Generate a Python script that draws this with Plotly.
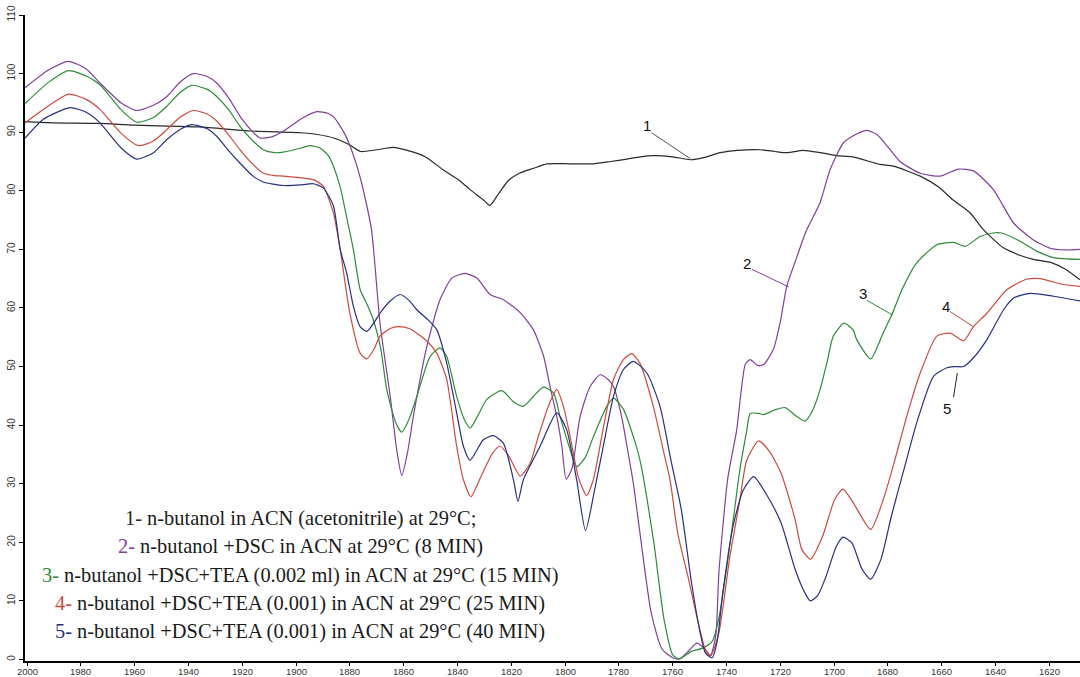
import plotly.graph_objects as go

# ---------------- data (wavenumber cm-1, transmittance %) ----------------
wn1 = [2000.7, 1990, 1973, 1960, 1936, 1917, 1898, 1892, 1886, 1880, 1876, 1870, 1864, 1858, 1852,
       1845.4, 1840, 1835.3, 1830, 1828, 1825, 1821, 1817, 1812, 1806.7, 1798, 1789.6, 1783, 1777,
       1772, 1767.3, 1760, 1753.5, 1748, 1742.4, 1736, 1727.5, 1722, 1717.5, 1711.5, 1705, 1699,
       1693, 1683, 1678, 1668, 1661, 1656, 1649.4, 1644.6, 1637.2, 1631, 1626, 1619, 1614, 1608.6]
t1 = [91.8, 91.6, 91.5, 91.2, 90.9, 90.2, 89.9, 89.6, 89.0, 87.8, 86.7, 87.0, 87.4, 86.8, 85.8,
      83.6, 82.0, 80.2, 78.3, 77.5, 79.3, 81.8, 83.0, 83.8, 84.6, 84.6, 84.6, 85.0, 85.4,
      85.8, 86.0, 85.8, 85.3, 85.7, 86.5, 86.9, 87.0, 86.7, 86.5, 86.9, 86.5, 86.0,
      85.8, 84.5, 84.2, 82.5, 80.6, 78.5, 76.2, 73.4, 70.3, 69.0, 68.3, 67.7, 66.6, 64.8]

wn2 = [2000.7, 1992, 1984.6, 1978, 1972.9, 1965, 1959.2, 1953, 1948, 1943, 1938.2, 1933, 1929.5,
       1925, 1920.8, 1916, 1913.4, 1909, 1904.7, 1898, 1892.3, 1888, 1886, 1882, 1879, 1876, 1872,
       1868.8, 1865, 1862.5, 1860.7, 1858.5, 1856.4, 1851.4, 1846.5, 1842.1, 1837.2, 1832.8,
       1827.9, 1822.9, 1816.7, 1811.8, 1808, 1805.6, 1803.1, 1801.2, 1799.6, 1797.5, 1794.4,
       1790.7, 1787, 1784, 1782, 1779, 1777, 1774.6, 1772, 1768, 1764, 1760, 1757.5, 1754, 1751,
       1748, 1746, 1744, 1742.8, 1739.5, 1736.2, 1734.5, 1733, 1731.2, 1728.5, 1726.3, 1722.6,
       1720.1, 1717.6, 1714, 1710.5, 1705.2, 1701.5, 1696.5, 1692, 1687.8, 1684.1, 1680, 1675.5,
       1668, 1660.6, 1653.8, 1648.2, 1640.8, 1633.3, 1626.2, 1619.7, 1614, 1608.6]
t2 = [97.6, 100.6, 102.1, 100.8, 98.4, 95.0, 93.7, 94.6, 96.1, 98.6, 100.0, 99.5, 98.4,
      95.8, 92.7, 90.0, 89.0, 89.2, 90.2, 92.3, 93.5, 93.2, 92.6, 89.8, 86.5, 82.0, 73.5,
      57.4, 44.9, 35.5, 31.4, 35.5, 41.5, 53.4, 61.4, 65.1, 65.9, 65.1,
      62.3, 61.4, 59.2, 56.3, 51.8, 46.6, 41.5, 36.4, 30.8, 32.5, 41.5,
      46.6, 48.6, 47.8, 46.6, 41.5, 36.4, 30.0, 21.0, 8.0, 1.8, 0.3, 0.1, 1.5, 2.8,
      1.8, 0.7, 4.0, 15.0, 31.0, 39.2, 46.0, 50.4, 51.2, 50.2, 50.3, 52.9,
      57.4, 63.7, 68.5, 73.0, 78.0, 83.6, 88.2, 89.6, 90.3, 89.6, 87.5, 85.0,
      83.0, 82.5, 83.7, 83.4, 80.2, 74.5, 71.7, 70.2, 69.9, 70.0]

wn3 = [2000.7, 1992, 1984.6, 1978, 1972.9, 1965, 1959.2, 1953, 1948.1, 1943, 1938.8, 1933, 1929.5,
       1925, 1920.8, 1916, 1912.2, 1908, 1904.7, 1898, 1894.8, 1891.1, 1888, 1886.1, 1883.5,
       1881.2, 1878.7, 1876.2, 1873.5, 1871.3, 1868.5, 1866.3, 1863, 1860.7, 1858, 1855.1,
       1850.2, 1846.5, 1844, 1840.3, 1837.5, 1835.3, 1832, 1829.1, 1823.5, 1819.2, 1815.5,
       1811.8, 1808, 1804.3, 1801.9, 1798.1, 1795.7, 1792.5, 1789.5, 1784.5, 1782, 1778.3,
       1774.6, 1772.2, 1767, 1763.2, 1760, 1757.6, 1753, 1749.1, 1745.3, 1742.7, 1739.5, 1737,
       1735, 1732.5, 1731.2, 1728, 1726.3, 1722, 1718.2, 1714, 1710.8, 1708, 1705.2, 1702.5,
       1700.3, 1696.3, 1693, 1691.6, 1686.4, 1681.7, 1678.3, 1674.8, 1669.3, 1661.8, 1655.6,
       1651.3, 1645.7, 1641, 1637.7, 1630.9, 1624.7, 1618.5, 1608.6]
t3 = [94.9, 98.5, 100.5, 99.6, 98.1, 93.8, 91.7, 92.5, 94.4, 96.8, 98.0, 97.3, 96.1,
      93.8, 91.0, 88.5, 87.0, 86.5, 86.6, 87.3, 87.7, 87.3, 86.0, 84.2, 80.5,
      75.5, 70.0, 63.2, 60.5, 58.0, 53.0, 46.1, 40.5, 38.8, 41.0, 44.9,
      51.7, 53.2, 51.7, 44.9, 41.0, 39.5, 42.0, 44.4, 45.9, 44.0, 43.2,
      44.9, 46.5, 45.5, 41.5, 35.8, 32.9, 34.5, 38.0, 43.2, 44.6, 42.7,
      38.0, 34.1, 19.9, 6.8, 0.8, 0.1, 1.4, 1.9, 3.1, 7.4, 17.1, 25.6,
      32.5, 39.0, 42.0, 42.0, 41.8, 42.6, 43.0, 41.5, 40.7, 42.5, 46.1, 51.0,
      55.2, 57.4, 56.3, 54.6, 51.3, 55.8, 59.1, 63.1, 67.7, 70.8, 71.2,
      70.5, 72.2, 72.8, 72.8, 71.4, 69.7, 68.6, 68.3]

wn4 = [2000.7, 1992, 1984.6, 1978, 1972.9, 1965, 1958.6, 1953, 1948.1, 1943, 1938.2, 1933, 1929.5,
       1925, 1920.8, 1916, 1912.2, 1908, 1904.7, 1898, 1893.6, 1889.9, 1886.1, 1883.6, 1880,
       1876.2, 1873.7, 1871, 1868.8, 1865, 1862, 1858, 1855.1, 1851, 1847.7, 1844, 1840.3,
       1837.8, 1835, 1831, 1827, 1824.2, 1821, 1816.7, 1813, 1810, 1806, 1803.1, 1800.5, 1798.1,
       1795, 1792, 1789.5, 1786, 1782, 1778.3, 1775.2, 1772.1, 1767.2, 1763.4, 1761, 1758.1,
       1754.3, 1751, 1747.8, 1745.9, 1742.8, 1738.9, 1735, 1732.5, 1728.1, 1724, 1719.7, 1714.5,
       1712, 1708.8, 1704.3, 1699.8, 1696.7, 1692.8, 1686.4, 1681.3, 1677.4, 1673, 1668, 1661.8,
       1656.9, 1651.9, 1648.2, 1643.2, 1635.8, 1628.4, 1623.4, 1614.8, 1608.6]
t4 = [91.6, 94.5, 96.5, 95.6, 93.9, 89.8, 87.7, 88.5, 90.4, 92.6, 93.7, 93.1, 91.9,
      89.5, 87.0, 84.5, 83.0, 82.6, 82.5, 82.2, 81.9, 80.8, 76.2, 70.0, 59.1,
      52.3, 51.3, 53.0, 55.2, 56.5, 56.8, 56.5, 55.7, 54.2, 52.3, 47.8, 36.4,
      30.7, 27.8, 31.5, 35.2, 36.4, 34.8, 31.3, 33.5, 38.0, 43.5, 46.1, 43.0, 38.0,
      31.0, 28.0, 30.7, 39.0, 47.8, 51.2, 52.2, 50.5, 43.2, 35.5, 30.7, 21.5,
      14.1, 7.3, 1.6, 0.6, 4.6, 17.1, 27.3, 34.0, 37.3, 35.5, 31.8, 23.9,
      18.8, 17.1, 21.0, 27.3, 29.1, 26.7, 22.2, 27.9, 34.1, 41.5, 48.9, 55.2,
      55.7, 54.4, 56.8, 59.1, 63.1, 64.9, 65.0, 64.0, 63.7]

wn5 = [2000.7, 1993.9, 1984, 1978, 1972.9, 1965, 1959.2, 1953, 1948.1, 1943, 1938.8, 1933, 1929.5,
       1925, 1920.8, 1916, 1912.2, 1904.7, 1898, 1893.6, 1889.9, 1886.1, 1883.6, 1881.2, 1878.7,
       1876.2, 1873.7, 1871, 1868.8, 1865, 1861.3, 1858, 1855.1, 1851, 1847.7, 1844, 1840.3,
       1837.8, 1835.3, 1830.4, 1826.6, 1822.9, 1819.2, 1817.5, 1815.5, 1809.3, 1803.1, 1799.4,
       1795.7, 1792.4, 1789, 1785.8, 1782, 1778.3, 1774.6, 1769.6, 1764.7, 1760.7, 1756.8, 1753,
       1749.8, 1747.8, 1745.3, 1743.5, 1741.4, 1737.6, 1733.8, 1729.9, 1724.8, 1719.7, 1714.5,
       1711, 1708.8, 1706, 1703, 1699.2, 1696.7, 1693.4, 1689.6, 1686.4, 1682.6, 1678.7, 1674,
       1669.3, 1663.1, 1658.1, 1655.6, 1651.9, 1648.2, 1643.2, 1637, 1633.3, 1627.1, 1618.5, 1608.6]
t5 = [89.0, 92.2, 94.2, 93.4, 91.6, 87.3, 85.4, 86.5, 88.7, 90.5, 91.3, 90.6, 89.3,
      86.8, 84.7, 82.5, 81.5, 80.9, 81.0, 81.2, 80.5, 77.4, 70.0, 66.0, 60.3,
      56.8, 56.0, 57.5, 59.1, 61.2, 62.3, 61.3, 59.7, 58.0, 56.3, 50.6, 42.1,
      36.4, 34.0, 37.5, 38.2, 36.9, 30.7, 27.0, 30.7, 36.4, 42.1, 39.2,
      30.7, 22.0, 29.0, 36.4, 44.9, 49.5, 50.9, 48.9, 43.2, 34.1, 25.6, 13.1,
      4.6, 1.1, 0.3, 3.0, 11.3, 22.7, 28.9, 31.2, 27.9, 23.3, 15.4,
      11.5, 10.0, 11.0, 14.2, 19.3, 20.9, 19.9, 15.4, 13.7, 17.1, 24.5, 32.5,
      40.4, 48.3, 49.8, 50.0, 50.0, 51.5, 54.6, 59.7, 61.7, 62.5, 62.0, 61.2]

series_labels = ["1", "2", "3", "4", "5"]
legend_texts = [
    "n-butanol in ACN (acetonitrile) at 29°C;",
    "n-butanol +DSC in ACN at 29°C (8 MIN)",
    "n-butanol +DSC+TEA (0.002 ml) in ACN at 29°C (15 MIN)",
    "n-butanol +DSC+TEA (0.001) in ACN at 29°C (25 MIN)",
    "n-butanol +DSC+TEA (0.001) in ACN at 29°C (40 MIN)",
]
x_ticks = list(range(2000, 1619, -20))
y_ticks = list(range(0, 111, 10))

# ---------------- style ----------------
colors = ["#2a2a2a", "#823f98", "#2f8b3a", "#cc4a3e", "#28307e"]
data = [(wn1, t1), (wn2, t2), (wn3, t3), (wn4, t4), (wn5, t5)]

fig = go.Figure()
for (wx, ty), c, lab in zip(data, colors, series_labels):
    fig.add_trace(go.Scatter(x=wx, y=ty, mode="lines", name=lab,
                             line=dict(color=c, width=1.2, shape="spline", smoothing=0.6),
                             showlegend=False, hoverinfo="skip"))

# curve number labels with leader lines (data coordinates)
num_labels = [
    ("1", 1769.6, 91.2, (1767.8, 89.9), (1753.5, 85.5), "#555555"),
    ("2", 1732.5, 67.6, (1730.6, 66.6), (1716.9, 63.6), colors[1]),
    ("3", 1689.3, 62.5, (1687.8, 61.3), (1678.3, 58.8), colors[2]),
    ("4", 1658.4, 60.3, (1656.9, 59.4), (1648.2, 56.8), colors[3]),
    ("5", 1658.1, 42.9, (1655.6, 44.8), (1654.2, 48.9), "#222222"),
]
for txt, tx, ty, p0, p1, lc in num_labels:
    fig.add_annotation(x=tx, y=ty, xref="x", yref="y", text=txt, showarrow=False,
                       font=dict(family="Liberation Sans, Arial", size=15, color="#111111"))
    fig.add_shape(type="line", xref="x", yref="y", x0=p0[0], y0=p0[1], x1=p1[0], y1=p1[1],
                  line=dict(color=lc, width=1))

# x tick labels placed tight under the axis (as in the original)
for v in x_ticks:
    fig.add_annotation(x=v, y=0, xref="x", yref="paper", text=str(v), showarrow=False,
                       xanchor="center", yanchor="top", yshift=-4, borderpad=0,
                       font=dict(family="Liberation Sans, Arial", size=9.5, color="#333333"))

# descriptive text block
ys_px = [518, 546.5, 575, 603, 631]
for lab, txt, c, ypx in zip(series_labels, legend_texts, colors, ys_px):
    fig.add_annotation(
        x=(300 - 25) / 1055, y=(661 - ypx) / 646, xref="paper", yref="paper",
        text=f"<span style='color:{c}'>{lab}-</span> {txt}", showarrow=False,
        xanchor="center", yanchor="middle",
        font=dict(family="Liberation Serif, Times New Roman", size=20.4, color="#1a1a1a"))

fig.update_layout(
    width=1080, height=677,
    margin=dict(l=25, r=0, t=15, b=16),
    paper_bgcolor="white", plot_bgcolor="white",
    font=dict(family="Liberation Sans, Arial", size=10, color="#333333"),
)
fig.update_xaxes(range=[2000.75, 1608.6], tickvals=x_ticks, showticklabels=False,
                 showgrid=False, zeroline=False, showline=True, linecolor="black", linewidth=2,
                 ticks="outside", ticklen=3, tickcolor="black", tickwidth=1)
fig.update_yaxes(range=[-0.25, 110], tickvals=y_ticks, ticktext=[str(v) for v in y_ticks],
                 showgrid=False, zeroline=False, showline=True, linecolor="black", linewidth=2,
                 ticks="outside", ticklen=4, tickcolor="black", tickwidth=1, tickangle=-90,
                 tickfont=dict(size=10, color="#333333"))

fig.write_html("out.html", config={"displayModeBar": False},
               post_script="document.body.style.margin='0';document.body.style.overflow='hidden';")
